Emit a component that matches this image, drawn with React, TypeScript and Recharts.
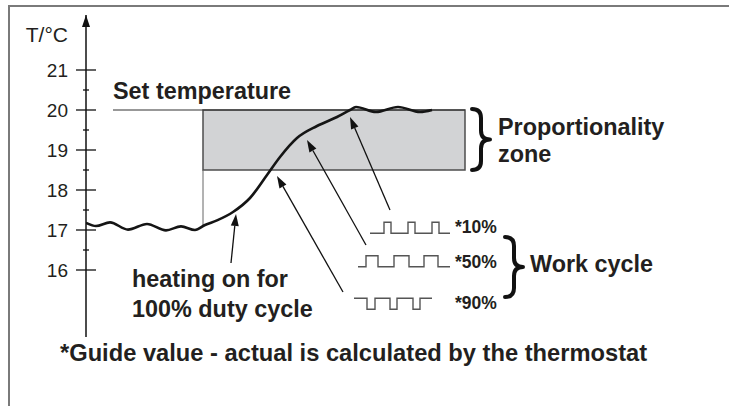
import React from 'react';
import {
  ComposedChart,
  Line,
  XAxis,
  YAxis,
  ReferenceArea,
  ReferenceLine,
  ReferenceDot,
} from 'recharts';

// ---------- data ----------
const timeSteps = [0, 10, 24, 42, 61, 80, 95, 109, 119, 131, 147, 164, 181, 194, 211, 231, 251, 264, 270, 290, 312, 334, 346];
const temperatures = [17.18, 17.1, 17.19, 17.01, 17.15, 16.99, 17.09, 17.0, 17.125, 17.24, 17.45, 17.8, 18.375, 18.825, 19.3, 19.6, 19.825, 20.0, 20.075, 19.95, 20.075, 19.95, 20.0];

const yTicks = [16, 16.5, 17, 17.5, 18, 18.5, 19, 19.5, 20, 20.5, 21];

const setTemperature = 20;
const zoneLower = 18.5;
const zoneStart = 117;
const zoneEnd = 379;

const pulse10Times = [284, 298, 305, 322, 329, 346, 353, 364];
const pulse10States = [0, 1, 0, 1, 0, 1, 0, 0];
const pulse50Times = [272, 280, 292, 308, 323, 338, 352, 364];
const pulse50States = [0, 1, 0, 1, 0, 1, 0, 0];
const pulse90Times = [268, 281, 289, 304, 311, 327, 334, 346];
const pulse90States = [1, 0, 1, 0, 1, 0, 1, 1];

const labelSet = 'Set temperature';
const labelZone1 = 'Proportionality';
const labelZone2 = 'zone';
const labelWork = 'Work cycle';
const labelHeat1 = 'heating on for';
const labelHeat2 = '100% duty cycle';
const labelGuide = '*Guide value - actual is calculated by the thermostat';
const labelAxis = 'T/°C';
const pulseLabels = ['*10%', '*50%', '*90%'];

// ---------- layout ----------
const FONT = '"Liberation Sans", Arial, Helvetica, sans-serif';
const TEXT = '#231f20';
const X_DOMAIN: [number, number] = [0, 640];
const Y_DOMAIN: [number, number] = [14.325, 22.375];
const PULSE_AMP = 0.275;
const pulseRows = [
  { times: pulse10Times, states: pulse10States, low: 16.918 },
  { times: pulse50Times, states: pulse50States, low: 16.083 },
  { times: pulse90Times, states: pulse90States, low: 15.018 },
];

const curveData = timeSteps.map((t, i) => ({ t, temp: temperatures[i] }));
const pulseData = pulseRows.map((row) =>
  row.times.map((t, i) => ({ t, v: row.low + row.states[i] * PULSE_AMP }))
);

const AxisTick = (props: any) => {
  const { x, y, payload } = props;
  const v = payload.value;
  const major = Number.isInteger(v);
  const half = major ? 10 : 3;
  return (
    <g>
      <line x1={x - half} x2={x + half} y1={y} y2={y} stroke="#111" strokeWidth={1.3} />
      {major && (
        <text x={x - 18} y={y} dy="0.36em" textAnchor="end" fontSize={19} fontFamily={FONT} fill={TEXT}>
          {v}
        </text>
      )}
    </g>
  );
};

const ArrowShape = (p: any) => {
  const { x1, y1, x2, y2 } = p;
  const ang = Math.atan2(y2 - y1, x2 - x1);
  const L = 12;
  const W = 4;
  const bx = x2 - L * Math.cos(ang);
  const by = y2 - L * Math.sin(ang);
  const px = -Math.sin(ang) * W;
  const py = Math.cos(ang) * W;
  return (
    <g>
      <line x1={x1} y1={y1} x2={bx} y2={by} stroke="#111" strokeWidth={1.3} />
      <polygon points={`${x2},${y2} ${bx + px},${by + py} ${bx - px},${by - py}`} fill="#111" />
    </g>
  );
};

const BraceShape = (p: any) => {
  const { x, y, width: w, height: h } = p;
  const mid = y + h / 2;
  const cx = x + w / 2;
  const r = Math.min(w / 2, h / 6);
  const d = `M ${x} ${y} Q ${cx} ${y} ${cx} ${y + r} L ${cx} ${mid - r} Q ${cx} ${mid} ${x + w} ${mid} Q ${cx} ${mid} ${cx} ${mid + r} L ${cx} ${y + h - r} Q ${cx} ${y + h} ${x} ${y + h}`;
  return <path d={d} fill="none" stroke="#111" strokeWidth={4} strokeLinecap="round" strokeLinejoin="round" />;
};

const textShape = (text: string, size: number, weight: string, anchor: string = 'start') => (p: any) => (
  <text x={p.cx} y={p.cy} fontSize={size} fontWeight={weight} fontFamily={FONT} fill={TEXT} textAnchor={anchor}>
    {text}
  </text>
);

const AxisArrow = (p: any) => (
  <polygon points={`${p.cx},${p.cy} ${p.cx - 4},${p.cy + 12} ${p.cx + 4},${p.cy + 12}`} fill="#111" />
);

export default function App() {
  return (
    <div style={{ position: 'absolute', left: 0, top: 0, width: 729, height: 406, background: '#fff', overflow: 'hidden' }}>
      <div
        style={{
          position: 'absolute',
          left: 8,
          top: 5,
          width: 721,
          height: 401,
          borderLeft: '2px solid #7a7a7a',
          borderTop: '2px solid #7a7a7a',
        }}
      />
      <ComposedChart
        width={729}
        height={406}
        margin={{ top: 15, right: 3, bottom: 69, left: 8 }}
        style={{ position: 'absolute', left: 0, top: 0 }}
      >
        <XAxis type="number" dataKey="t" domain={X_DOMAIN} hide allowDataOverflow />
        <YAxis
          type="number"
          domain={Y_DOMAIN}
          ticks={yTicks}
          interval={0}
          width={78}
          tickSize={0}
          tickMargin={0}
          tickLine={false}
          axisLine={{ stroke: '#111', strokeWidth: 1.5 }}
          tick={<AxisTick />}
          allowDataOverflow
        />
        <ReferenceArea
          x1={zoneStart}
          x2={zoneEnd}
          y1={zoneLower}
          y2={setTemperature}
          fill="#d2d3d5"
          fillOpacity={1}
          stroke="#4d4d4d"
          strokeWidth={1.5}
          isFront={false}
        />
        <ReferenceLine
          segment={[{ x: 27, y: setTemperature }, { x: zoneEnd, y: setTemperature }]}
          stroke="#333"
          strokeWidth={1.2}
        />
        <ReferenceLine
          segment={[{ x: zoneStart, y: zoneLower }, { x: zoneStart, y: 17.12 }]}
          stroke="#666"
          strokeWidth={1}
        />
        <Line data={curveData} dataKey="temp" type="monotone" stroke="#151515" strokeWidth={2.6} dot={false} isAnimationActive={false} />
        {pulseData.map((d, i) => (
          <Line key={i} data={d} dataKey="v" type="stepAfter" stroke="#555" strokeWidth={1.4} dot={false} isAnimationActive={false} />
        ))}
        <ReferenceLine segment={[{ x: 145, y: 16.175 }, { x: 150, y: 17.4 }]} shape={ArrowShape} />
        <ReferenceLine segment={[{ x: 257, y: 15.45 }, { x: 191, y: 18.35 }]} shape={ArrowShape} />
        <ReferenceLine segment={[{ x: 280, y: 16.625 }, { x: 221, y: 19.25 }]} shape={ArrowShape} />
        <ReferenceLine segment={[{ x: 304, y: 17.5 }, { x: 264, y: 19.825 }]} shape={ArrowShape} />
        <ReferenceArea x1={386} x2={404} y1={18.5} y2={20.025} shape={BraceShape} />
        <ReferenceArea x1={419} x2={437} y1={15.325} y2={16.825} shape={BraceShape} />
        <ReferenceDot x={0} y={Y_DOMAIN[1]} ifOverflow="visible" shape={AxisArrow} />
        <ReferenceDot x={-18} y={21.8875} ifOverflow="visible" shape={(p: any) => (
          <text x={p.cx} y={p.cy} dy="0.36em" fontSize={21} fontFamily={FONT} fill={TEXT} textAnchor="end">{labelAxis}</text>
        )} />
        <ReferenceDot x={27} y={20.275} ifOverflow="visible" shape={textShape(labelSet, 23.4, 'bold')} />
        <ReferenceDot x={412} y={19.375} ifOverflow="visible" shape={textShape(labelZone1, 23.4, 'bold')} />
        <ReferenceDot x={412} y={18.708} ifOverflow="visible" shape={textShape(labelZone2, 23.4, 'bold')} />
        <ReferenceDot x={444} y={15.958} ifOverflow="visible" shape={textShape(labelWork, 23.4, 'bold')} />
        <ReferenceDot x={46} y={15.583} ifOverflow="visible" shape={textShape(labelHeat1, 23.4, 'bold')} />
        <ReferenceDot x={46} y={14.833} ifOverflow="visible" shape={textShape(labelHeat2, 23.4, 'bold')} />
        <ReferenceDot x={-26} y={13.725} ifOverflow="visible" shape={textShape(labelGuide, 23.7, 'bold')} />
        <ReferenceDot x={369} y={16.925} ifOverflow="visible" shape={textShape(pulseLabels[0], 17.5, 'bold')} />
        <ReferenceDot x={369} y={16.05} ifOverflow="visible" shape={textShape(pulseLabels[1], 17.5, 'bold')} />
        <ReferenceDot x={369} y={15.025} ifOverflow="visible" shape={textShape(pulseLabels[2], 17.5, 'bold')} />
      </ComposedChart>
    </div>
  );
}
